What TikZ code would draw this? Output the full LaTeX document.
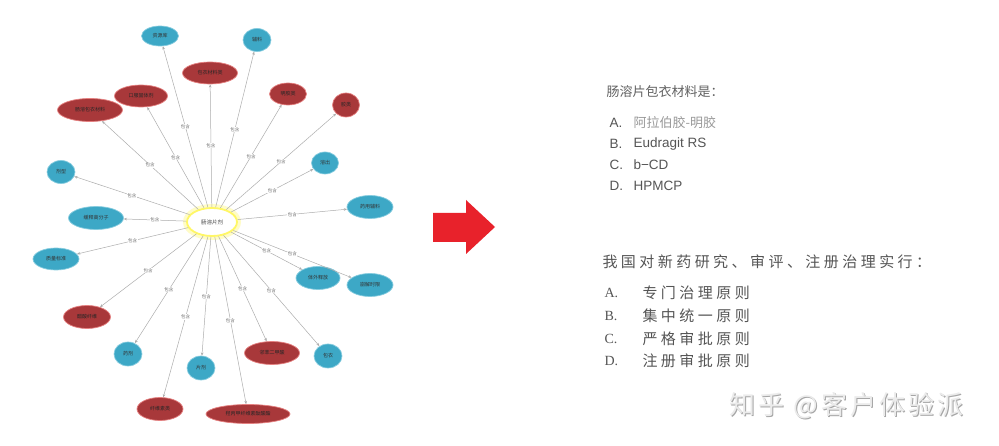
\documentclass[tikz,border=0pt]{standalone}
\usepackage{fontspec}
\setmainfont{Liberation Serif}
\newfontfamily\cjk{Noto Sans CJK SC}
\newfontfamily\cjkwide[LetterSpace=23]{Noto Sans CJK SC}
\newfontfamily\cjkmark[LetterSpace=12]{Noto Sans CJK SC}
\newfontfamily\arial{Liberation Sans}
\usetikzlibrary{shapes.geometric,arrows.meta}
\definecolor{tealA}{HTML}{3DA8C6}
\definecolor{tealB}{HTML}{86CCDF}
\definecolor{redA}{HTML}{A8383A}
\definecolor{redB}{HTML}{E58080}
\definecolor{edgec}{HTML}{ADADAD}
\definecolor{txt}{HTML}{555555}
\definecolor{arrowred}{HTML}{E8222B}
\tikzset{
  tnode/.style={ellipse, fill=tealA, draw=tealB, line width=0.7pt, inner sep=0pt,
    font=\cjk\fontsize{5}{5}\selectfont, text=black!80},
  rnode/.style={ellipse, fill=redA, draw=redB, line width=0.7pt, inner sep=0pt,
    font=\cjk\fontsize{5}{5}\selectfont, text=black!85},
  cnode/.style={ellipse, fill=white, draw=yellow!60, line width=1.8pt, inner sep=0pt,
    font=\cjk\fontsize{5.5}{5.5}\selectfont, text=black!70},
  edge/.style={draw=edgec, line width=0.5pt, -{Stealth[length=3.2pt,width=2.6pt]}},
  elab/.style={font=\cjk\fontsize{4.5}{4.5}\selectfont, text=black!55, fill=white, inner sep=0.5pt, pos=0.5},
  qtitle/.style={anchor=west, text=txt},
  qopt/.style={anchor=west, text=txt},
}
\begin{document}
\begin{tikzpicture}[x=1pt,y=-1pt]
\useasboundingbox (0,0) rectangle (999,446);
\fill[white] (0,0) rectangle (999,446);

% glow around centre
\draw[yellow!22, line width=5pt] (212,222) ellipse (26.5pt and 15.5pt);
\node[cnode, minimum width=50pt, minimum height=28pt] (c) at (212,222) {肠溶片剂};

% satellites
\node[tnode, minimum width=37pt, minimum height=20pt] (n1) at (160,36) {资源库};
\node[tnode, minimum width=28pt, minimum height=23pt] (n2) at (257,40) {辅料};
\node[rnode, minimum width=55pt, minimum height=22pt] (n3) at (210,73) {包衣材料类};
\node[rnode, minimum width=53pt, minimum height=22pt] (n4) at (141,96) {口服固体剂};
\node[rnode, minimum width=65pt, minimum height=23pt] (n5) at (90,110) {肠溶包衣材料};
\node[rnode, minimum width=37pt, minimum height=22pt] (n6) at (288,94) {明胶类};
\node[rnode, minimum width=27pt, minimum height=24pt] (n7) at (346,105) {胶类};
\node[tnode, minimum width=28pt, minimum height=23pt] (n8) at (61,172) {剂型};
\node[tnode, minimum width=55pt, minimum height=23pt] (n9) at (96,218) {缓释高分子};
\node[tnode, minimum width=46pt, minimum height=22pt] (n10) at (56,259) {质量标准};
\node[tnode, minimum width=27pt, minimum height=22pt] (n11) at (325,163) {溶出};
\node[tnode, minimum width=46pt, minimum height=23pt] (n12) at (370,207) {药用辅料};
\node[tnode, minimum width=44pt, minimum height=23pt] (n13) at (318,278) {体外释放};
\node[tnode, minimum width=46pt, minimum height=23pt] (n14) at (370,285) {崩解时限};
\node[rnode, minimum width=47pt, minimum height=23pt] (n15) at (87,317) {醋酸纤维};
\node[tnode, minimum width=28pt, minimum height=24pt] (n16) at (128,354) {药剂};
\node[tnode, minimum width=28pt, minimum height=24pt] (n17) at (201,368) {片剂};
\node[rnode, minimum width=46pt, minimum height=23pt] (n18) at (160,409) {纤维素类};
\node[rnode, minimum width=55pt, minimum height=23pt] (n19) at (272,353) {邻苯二甲酸};
\node[tnode, minimum width=28pt, minimum height=24pt] (n20) at (328,356) {包衣};
\node[rnode, minimum width=84pt, minimum height=19pt] (n21) at (248,414) {羟丙甲纤维素酞酸酯};

% edges
\foreach \n in {n1,n2,n3,n4,n5,n6,n7,n8,n9,n10,n11,n12,n13,n14,n15,n16,n17,n18,n19,n20,n21}
  \draw[edge] (c) -- node[elab]{包含} (\n);

% red arrow
\fill[arrowred] (433,213) -- (466,213) -- (466,200) -- (495,227) -- (466,254) -- (466,242) -- (433,242) -- cycle;

% question 1
\node[qtitle, font=\cjk\fontsize{13}{13}\selectfont, text=black!62] (q1) at (603,92) {肠溶片包衣材料是：};
\node[qopt, font=\arial\fontsize{13.5}{13.5}\selectfont] (q1a) at (606,123) {A.};
\node[qopt, font=\cjk\fontsize{13}{13}\selectfont, text=black!40] (q1at) at (630,123) {阿拉伯胶-明胶};
\node[qopt, font=\arial\fontsize{13.5}{13.5}\selectfont] (q1b) at (606,144) {B.};
\node[qopt, font=\arial\fontsize{13.5}{13.5}\selectfont] (q1bt) at (630,144) {Eudragit RS};
\node[qopt, font=\arial\fontsize{13.5}{13.5}\selectfont] (q1c) at (606,165) {C.};
\node[qopt, font=\arial\fontsize{13.5}{13.5}\selectfont] (q1ct) at (630,165) {b−CD};
\node[qopt, font=\arial\fontsize{13.5}{13.5}\selectfont] (q1d) at (606,186) {D.};
\node[qopt, font=\arial\fontsize{13.5}{13.5}\selectfont] (q1dt) at (630,186) {HPMCP};

% question 2
\node[qtitle, font=\cjkwide\fontsize{15}{15}\selectfont] (q2) at (599,262) {我国对新药研究、审评、注册治理实行：};
\node[qopt, font=\fontsize{14}{14}\selectfont] (q2a) at (601,293) {A.};
\node[qopt, font=\cjkwide\fontsize{15}{15}\selectfont] (q2at) at (639,293) {专门治理原则};
\node[qopt, font=\fontsize{14}{14}\selectfont] (q2b) at (601,316) {B.};
\node[qopt, font=\cjkwide\fontsize{15}{15}\selectfont] (q2bt) at (639,316) {集中统一原则};
\node[qopt, font=\fontsize{14}{14}\selectfont] (q2c) at (601,339) {C.};
\node[qopt, font=\cjkwide\fontsize{15}{15}\selectfont] (q2ct) at (639,339) {严格审批原则};
\node[qopt, font=\fontsize{14}{14}\selectfont] (q2d) at (601,361) {D.};
\node[qopt, font=\cjkwide\fontsize{15}{15}\selectfont] (q2dt) at (639,361) {注册审批原则};

% watermark
\node[anchor=west, font=\cjkmark\fontsize{26}{26}\selectfont, text=black!35] at (727,407) {知乎 @客户体验派};
\node[anchor=west, font=\cjkmark\fontsize{26}{26}\selectfont, text=black!8] (wm) at (726,406) {知乎 @客户体验派};
\end{tikzpicture}
\end{document}
